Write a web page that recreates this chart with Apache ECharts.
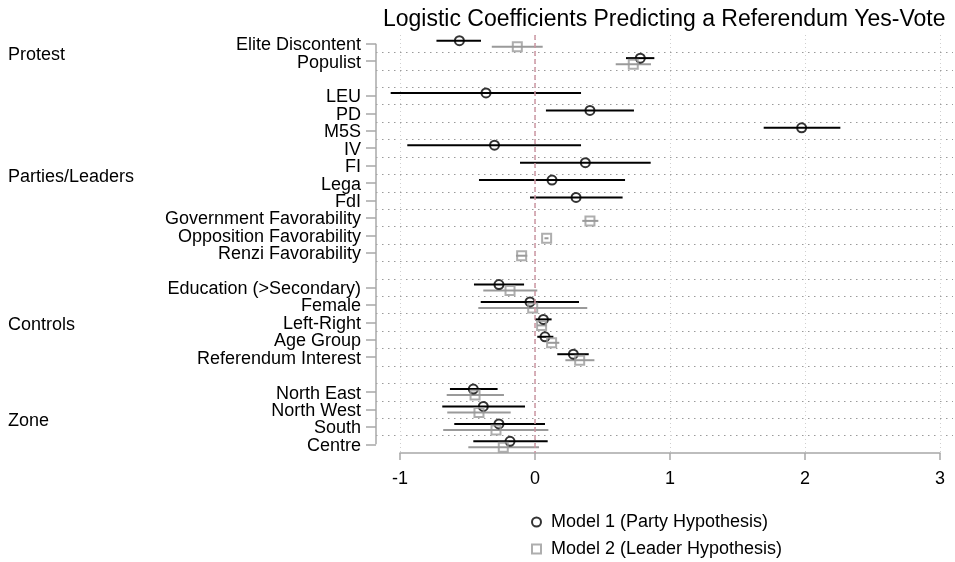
<!DOCTYPE html>
<html>
<head>
<meta charset="utf-8">
<script src="https://cdn.jsdelivr.net/npm/echarts@6/dist/echarts.min.js"></script>
<style>
  body { margin: 0; background: #fff; }
  #main { width: 955px; height: 562px; }
</style>
</head>
<body>
<div id="main"></div>
<script>
// 类别（空字符串 = 分组之间的空行）
var categories = ['Elite Discontent', 'Populist', ' ',
    'LEU', 'PD', 'M5S', 'IV', 'FI', 'Lega', 'FdI',
    'Government Favorability', 'Opposition Favorability', 'Renzi Favorability', '  ',
    'Education (>Secondary)', 'Female', 'Left-Right', 'Age Group', 'Referendum Interest', '   ',
    'North East', 'North West', 'South', 'Centre'];

// Model 1 (Party Hypothesis)
var m1Est = [-0.56, 0.78, null, -0.363, 0.407, 1.975, -0.30, 0.373, 0.126, 0.304, null, null, null, null,
    -0.267, -0.037, 0.062, 0.074, 0.284, null, -0.457, -0.383, -0.267, -0.185];
var m1Lo = [-0.73, 0.674, null, -1.069, 0.081, 1.694, -0.946, -0.111, -0.415, -0.037, null, null, null, null,
    -0.452, -0.402, 0.0, 0.017, 0.165, null, -0.63, -0.687, -0.598, -0.457];
var m1Hi = [-0.40, 0.884, null, 0.341, 0.733, 2.262, 0.341, 0.857, 0.667, 0.649, null, null, null, null,
    -0.081, 0.326, 0.123, 0.136, 0.398, null, -0.277, -0.074, 0.074, 0.094];

// Model 2 (Leader Hypothesis)
var m2Est = [-0.131, 0.728, null, null, null, null, null, null, null, null, 0.407, 0.086, -0.099, null,
    -0.185, -0.017, 0.049, 0.123, 0.331, null, -0.444, -0.415, -0.289, -0.235];
var m2Lo = [-0.32, 0.598, null, null, null, null, null, null, null, null, 0.35, 0.07, -0.141, null,
    -0.383, -0.42, 0.017, 0.094, 0.225, null, -0.654, -0.65, -0.68, -0.494];
var m2Hi = [0.057, 0.859, null, null, null, null, null, null, null, null, 0.469, 0.10, -0.057, null,
    0.017, 0.387, 0.086, 0.18, 0.44, null, -0.23, -0.18, 0.099, 0.03];

// 分组标签
var groupNames = ['Protest', 'Parties/Leaders', 'Controls', 'Zone'];
var groupFirst = ['Elite Discontent', 'LEU', 'Education (>Secondary)', 'North East'];
var groupLast = ['Populist', 'Renzi Favorability', 'Referendum Interest', 'Centre'];

var xTicks = [-1, 0, 1, 2, 3];

var model1_name = 'Model 1 (Party Hypothesis)';
var model2_name = 'Model 2 (Leader Hypothesis)';
var model1_color = '#000000';
var model2_color = '#9a9a9a';
var axis_color = '#a8a8a8';
var font = 'Liberation Sans, Arial, Helvetica, sans-serif';

var groupCenters = [];
for (let i = 0; i < groupNames.length; i++) {
    groupCenters.push((categories.indexOf(groupFirst[i]) + categories.indexOf(groupLast[i])) / 2);
}

function ciData(lo, hi) {
    let out = [];
    for (let i = 0; i < categories.length; i++) {
        if (lo[i] != null) out.push([i, lo[i], hi[i]]);
    }
    return out;
}
function pointData(est) {
    let out = [];
    for (let i = 0; i < categories.length; i++) {
        if (est[i] != null) out.push([est[i], i]);
    }
    return out;
}

// 置信区间线，off 为上下偏移（像素）
function ciRender(color, off) {
    return function (params, api) {
        let a = api.coord([api.value(1), api.value(0)]);
        let b = api.coord([api.value(2), api.value(0)]);
        return {
            type: 'line',
            shape: { x1: a[0], y1: a[1] + off, x2: b[0], y2: b[1] + off },
            style: { stroke: color, lineWidth: 2 }
        };
    };
}

// 图例（每个模型一个）
function makeLegend(name, icon, top) {
    return {
        orient: 'vertical',
        left: 526,
        top: top,
        itemWidth: 9,
        itemHeight: 9,
        itemGap: 0,
        textStyle: { fontSize: 18, color: '#000', fontFamily: font, padding: [0, 0, 0, 5] },
        data: [{ name: name, icon: icon }]
    };
}

var myChart = echarts.init(document.getElementById('main'));

var option = {
    animation: false,
    textStyle: { fontFamily: font, color: '#000' },
    title: {
        text: 'Logistic Coefficients Predicting a Referendum Yes-Vote',
        left: 378,
        top: 3,
        textStyle: { fontSize: 23, fontWeight: 'normal', color: '#000', fontFamily: font }
    },
    legend: [
        makeLegend(model1_name, 'circle', 508),
        makeLegend(model2_name, 'rect', 535)
    ],
    grid: [
        // 标签 + 水平网格线
        { left: 376, right: 2, top: 35, bottom: 109, outerBoundsMode: 'none' },
        // 数据区域 (-1 .. 3)
        { left: 400, right: 15, top: 35, bottom: 109, outerBoundsMode: 'none' }
    ],
    xAxis: [
        { gridIndex: 0, type: 'value', min: 0, max: 1, show: false },
        {
            gridIndex: 1, type: 'value', min: xTicks[0], max: xTicks[xTicks.length - 1], interval: 1,
            axisLine: { show: true, lineStyle: { color: axis_color, width: 1.5 } },
            axisTick: { show: true, length: 7, lineStyle: { color: axis_color, width: 1.5 } },
            axisLabel: { fontSize: 18, color: '#000', margin: 17, fontFamily: font },
            splitLine: { show: true, lineStyle: { color: '#cfcfcf', type: [1, 3], width: 1 } }
        }
    ],
    yAxis: [
        {
            gridIndex: 0, type: 'category', data: categories, inverse: true,
            axisLine: { show: false },
            axisTick: {
                show: true, length: 10, alignWithLabel: true,
                interval: function (i, v) { return v.trim() !== ''; },
                lineStyle: { color: axis_color, width: 1.5 }
            },
            axisLabel: {
                interval: 0, margin: 15,
                formatter: function (v) { return '{c|' + v + '}'; },
                rich: { c: { fontSize: 18, color: '#000', fontFamily: font, padding: [3, 0, 0, 0] } }
            },
            splitLine: {
                show: true, showMinLine: false, showMaxLine: false,
                lineStyle: { color: '#9a9a9a', type: [1.5, 4.5], width: 1 }
            }
        },
        { gridIndex: 1, type: 'category', data: categories, inverse: true, show: false },
        {
            // 分组名称
            gridIndex: 0, type: 'value', position: 'left', inverse: true,
            min: -0.5, max: categories.length - 0.5,
            axisLine: { show: false }, axisTick: { show: false }, splitLine: { show: false },
            axisLabel: {
                customValues: groupCenters,
                align: 'left', margin: 368,
                rich: { g: { fontSize: 18, color: '#000', fontFamily: font, padding: [5, 0, 0, 0] } },
                formatter: function (v) {
                    let k = groupCenters.indexOf(v);
                    return k >= 0 ? '{g|' + groupNames[k] + '}' : '';
                }
            }
        }
    ],
    series: [
        {
            // y 轴线：从第一个类别到最后一个类别
            type: 'line', xAxisIndex: 0, yAxisIndex: 0, silent: true, symbol: 'none',
            lineStyle: { color: axis_color, width: 1.5 },
            data: [[0, 0], [0, categories.length - 1]]
        },
        {
            type: 'custom', xAxisIndex: 1, yAxisIndex: 1, clip: false,
            renderItem: ciRender(model1_color, -3),
            encode: { x: [1, 2], y: 0 },
            data: ciData(m1Lo, m1Hi),
            markLine: {
                silent: true, symbol: 'none', label: { show: false },
                lineStyle: { color: '#cc97a3', type: [5, 3], width: 1.5 },
                data: [{ xAxis: 0 }]
            }
        },
        {
            type: 'custom', xAxisIndex: 1, yAxisIndex: 1, clip: false,
            renderItem: ciRender(model2_color, 3),
            encode: { x: [1, 2], y: 0 },
            data: ciData(m2Lo, m2Hi)
        },
        {
            type: 'scatter', name: model1_name, xAxisIndex: 1, yAxisIndex: 1,
            symbol: 'circle', symbolSize: 9, symbolOffset: [0, -3],
            itemStyle: { color: 'rgba(255,255,255,0)', borderColor: model1_color, borderWidth: 2 },
            data: pointData(m1Est)
        },
        {
            type: 'scatter', name: model2_name, xAxisIndex: 1, yAxisIndex: 1,
            symbol: 'rect', symbolSize: 9, symbolOffset: [0, 3],
            itemStyle: { color: 'rgba(255,255,255,0)', borderColor: model2_color, borderWidth: 2 },
            data: pointData(m2Est)
        }
    ]
};

myChart.setOption(option);
</script>
</body>
</html>
